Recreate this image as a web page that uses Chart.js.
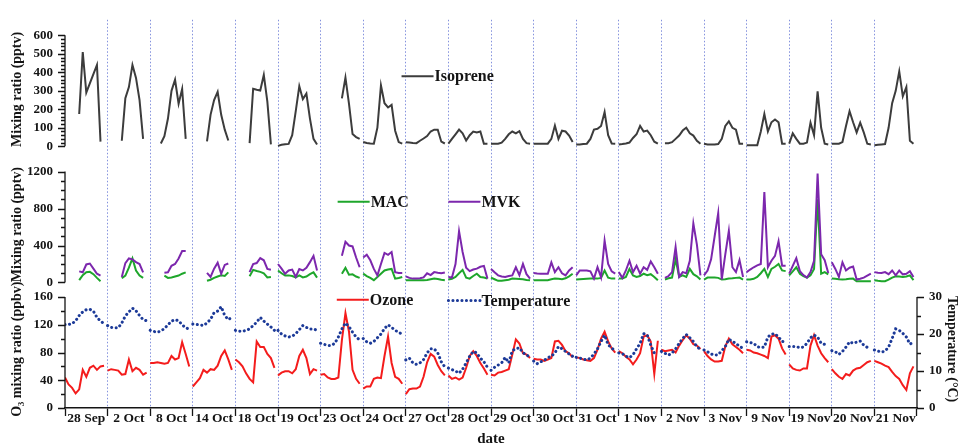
<!DOCTYPE html>
<html>
<head>
<meta charset="utf-8">
<script src="https://cdn.jsdelivr.net/npm/chart.js@4.4.1/dist/chart.umd.min.js"></script>
<style>
  html, body { margin: 0; padding: 0; background: #fff; }
  canvas { display: block; }
</style>
</head>
<body>
<canvas id="chart" width="959" height="447"></canvas>
<script>
// sampling days (each row below = one day, 12 samples, every 2 h)
const days = ['28 Sep', '2 Oct', '8 Oct', '14 Oct', '18 Oct', '19 Oct', '23 Oct', '24 Oct', '27 Oct', '28 Oct',
  '29 Oct', '30 Oct', '31 Oct', '1 Nov', '2 Nov', '3 Nov', '9 Nov', '19 Nov', '20 Nov', '21 Nov'];

// isoprene, pptv
const isoprene = [
  [null, null, null, null, 175, 510, 290, 340, 390, 440, 25, null],
  [null, null, null, null, 30, 260, 320, 440, 370, 250, 40, null],
  [null, null, null, 15, 55, 150, 300, 360, 230, 310, 40, null],
  [null, null, null, null, 26, 170, 250, 295, 170, 90, 31, null],
  [null, null, null, null, 17, 311, 306, 302, 386, 241, 10, null],
  [2, 8, 11, 13, 60, 190, 325, 255, 285, 150, 40, 10],
  [null, null, null, null, null, null, 259, 372, 230, 66, 50, 40],
  [23, 18, 15, 14, 101, 329, 233, 210, 224, 84, 23, 14],
  [22, 20, 18, 17, 30, 42, 55, 80, 90, 90, 25, 15],
  [14, 40, 65, 90, 70, 31, 60, 80, 75, 80, 14, 14],
  [14, 14, 14, 20, 40, 65, 80, 70, 82, 40, 17, 14],
  [14, 14, 14, 14, 14, 40, 112, 40, 84, 80, 58, 23],
  [10, 10, 12, 14, 40, 90, 95, 110, 185, 60, 15, 14],
  [10, 12, 15, 20, 45, 65, 110, 80, 85, 60, 25, 14],
  [null, 17, 17, 22, 40, 58, 85, 100, 70, 58, 30, 14],
  [14, 10, 10, 10, 12, 40, 110, 135, 100, 90, 14, 14],
  [5, 5, 5, 5, 80, 175, 80, 130, 145, 130, 14, 14],
  [14, 70, 40, 14, 14, 20, 128, 60, 297, 100, 14, 10],
  [14, 14, 14, 23, 110, 190, 130, 75, 128, 75, 14, 10],
  [5, 8, 10, 12, 100, 233, 300, 405, 270, 320, 30, 14]
];

// MVK, pptv
const mvk = [
  [null, null, null, null, 120, 110, 195, 205, 150, 95, 75, null],
  [null, null, null, null, 60, 210, 260, 250, 220, 200, 110, null],
  [null, null, null, null, 105, 110, 180, 200, 260, 340, 340, null],
  [null, null, null, null, 105, 60, 150, 215, 95, 190, 205, null],
  [null, null, null, null, 112, 200, 210, 263, 240, 147, 137, null],
  [200, 150, 95, 130, 140, 60, 145, 130, 160, 220, 288, 130],
  [null, null, null, null, null, null, 290, 440, 400, 390, 270, 165],
  [270, 300, 240, 147, 77, 200, 320, 300, 330, 112, 102, 102],
  [67, 50, 42, 42, 45, 55, 100, 80, 112, 105, 100, 109],
  [60, 53, 200, 555, 330, 160, 123, 140, 150, 170, 180, 42],
  [147, 110, 77, 65, 60, 70, 77, 165, 80, 200, 90, 42],
  [102, 98, 95, 95, 95, 218, 112, 165, 100, 77, 130, 165],
  [77, 130, 130, 130, 120, 42, 165, 55, 453, 200, 120, 95],
  [112, 50, 130, 235, 112, 182, 95, 165, 137, 228, 165, 95],
  [null, 49, 70, 112, 383, 60, 112, 100, 235, 640, 410, 77],
  [77, 130, 250, 500, 750, 32, 305, 558, 165, 112, 242, 60],
  [112, 140, 165, 185, 200, 979, 165, 235, 288, 446, 182, 182],
  [95, 180, 263, 123, 80, 53, 112, 235, 1180, 305, 242, 102],
  [218, 147, 60, 218, 130, 160, 172, 32, 40, 53, 75, 95],
  [112, 105, 102, 112, 90, 130, 77, 130, 88, 95, 123, 60]
];

// MAC, pptv
const mac = [
  [null, null, null, null, 25, 80, 110, 115, 90, 50, 14, null],
  [null, null, null, null, 45, 75, 160, 260, 130, 75, 50, null],
  [null, null, null, null, 75, 50, 55, 65, 75, 95, 110, null],
  [null, null, null, null, 18, 30, 50, 65, 77, 70, 110, null],
  [null, null, null, null, 67, 137, 125, 115, 100, 55, 60, null],
  [130, 100, 77, 77, 70, 55, 77, 55, 65, 90, 110, 53],
  [null, null, null, null, null, null, 95, 158, 85, 88, 65, 50],
  [95, 70, 50, 25, 60, 95, 130, 140, 147, 42, 49, 60],
  [25, 25, 25, 25, 25, 25, 28, 35, 42, 38, 30, 25],
  [32, 40, 60, 100, 137, 53, 42, 70, 95, 60, 53, 42],
  [53, 35, 18, 20, 25, 30, 42, 40, 38, 35, 28, 25],
  [25, 25, 25, 25, 25, 35, 42, 40, 35, 45, 67, 95],
  [32, 35, 38, 40, 42, 42, 42, 50, 130, 53, 42, 42],
  [42, 42, 60, 147, 77, 60, 70, 95, 80, 90, 60, 25],
  [null, 32, 45, 53, 253, 60, 77, 60, 147, 90, 67, 32],
  [32, 53, 53, 53, 50, 32, 35, 42, 45, 50, 53, 32],
  [32, 32, 40, 60, 100, 147, 60, 147, 170, 200, 130, 123],
  [77, 120, 165, 95, 70, 53, 77, 147, 900, 95, 112, 88],
  [42, 40, 35, 32, 35, 40, 42, 14, 14, 14, 14, 14],
  [25, 18, 14, 14, 30, 53, 67, 65, 60, 65, 77, 25]
];

// ozone, ppbv
const ozone = [
  [44, 34, 29, 21, 27, 55, 45, 58, 61, 55, 60, 61],
  [54, 56, 55, 54, 48, 49, 70, 53, 58, 55, 48, 51],
  [65, 65, 66, 65, 64, 65, 75, 70, 72, 95, 78, 60],
  [31, 37, 43, 55, 51, 56, 55, 61, 75, 83, 70, 55],
  [70, 66, 60, 50, 42, 37, 96, 88, 88, 78, 72, 58],
  [47, 51, 53, 53, 50, 56, 75, 84, 72, 49, 56, 54],
  [48, 49, 44, 42, 42, 44, 98, 137, 110, 55, 42, 35],
  [28, 31, 31, 42, 44, 43, 75, 103, 65, 45, 42, 35],
  [20, 27, 28, 28, 31, 45, 66, 78, 74, 62, 53, 47],
  [47, 42, 44, 41, 44, 58, 75, 82, 75, 65, 57, 48],
  [48, 47, 51, 52, 54, 56, 77, 99, 93, 79, 77, 72],
  [71, 70, 70, 68, 70, 72, 96, 97, 91, 82, 79, 73],
  [73, 72, 70, 69, 68, 72, 84, 100, 110, 96, 86, 80],
  [82, 79, 74, 70, 63, 70, 79, 103, 105, 96, 49, 97],
  [84, 82, 83, 84, 80, 90, 98, 105, 100, 92, 90, 85],
  [82, 75, 70, 67, 67, 68, 89, 100, 92, 88, 84, 79],
  [84, 83, 80, 79, 77, 75, 72, 103, 105, 100, 86, 77],
  [63, 57, 55, 54, 57, 57, 90, 105, 90, 79, 72, 66],
  [56, 50, 45, 42, 49, 47, 54, 57, 58, 62, 66, 68],
  [68, 66, 64, 61, 59, 52, 46, 42, 33, 26, 50, 60]
];

// temperature, deg C
const temperature = [
  [22.6, 22.6, 22.8, 23.6, 25, 26, 26.6, 26.7, 26.2, 24.5, 23.5, 22.8],
  [22.3, 21.8, 21.7, 21.7, 23, 24.9, 26, 27, 26.3, 25, 23.9, 23.6],
  [21, 20.7, 20.5, 20.8, 21.5, 22.5, 23.5, 23.9, 23.6, 22.5, 21.7, 21.3],
  [22.7, 22.6, 22.5, 22.3, 23, 24, 25.8, 26.2, 27.4, 25, 23.9, 24.5],
  [21, 20.8, 20.7, 21, 21.4, 22.3, 23.2, 24.5, 23.5, 22.7, 21.9, 21],
  [21, 20, 19.5, 19.2, 19.4, 20.1, 21.2, 22.3, 21.8, 21.4, 21.4, 21],
  [17.5, 17.2, 16.9, 16.9, 17.5, 19.2, 21.4, 23, 22, 20.5, 19.2, 18.4],
  [18.8, 17.9, 17.5, 18, 19, 20, 21.5, 22.5, 21.8, 21, 20.5, 19.9],
  [13, 13.5, 12.2, 11.8, 12.2, 13.1, 14.9, 16, 16, 14.9, 12.5, 11.1],
  [10.8, 10.4, 10, 9.4, 10.5, 12.2, 14, 15.3, 14.9, 13.5, 12.5, 11],
  [10.2, 11, 11.6, 12.2, 13.7, 12.2, 15.5, 16, 16.3, 14.9, 14.5, 13.5],
  [12.7, 12, 12.5, 12.9, 13.6, 14, 14.9, 16.6, 16, 15.3, 14.6, 14],
  [13.7, 13.5, 13.2, 13, 13.5, 14.6, 16, 18, 19.7, 17.1, 16.2, 15.4],
  [14.9, 14.7, 14, 13.6, 14.4, 16, 17.5, 20.1, 19.8, 17, 14.9, 15.3],
  [15.3, 14.8, 14.3, 14.9, 16, 17.5, 18.8, 19.9, 19, 18, 16.6, 15.8],
  [15.7, 15.2, 14.6, 14.3, 14.4, 15.5, 16.6, 18.6, 18, 17.5, 16.6, 16.2],
  [17.9, 17.7, 17.5, 16.6, 16.3, 16.5, 19.2, 20, 20.1, 19.2, 18, 17.9],
  [16.6, 16.6, 16.6, 16.3, 16.5, 17.5, 19, 19.7, 19.2, 17.5, 17.2, 16.8],
  [15.5, 15.2, 14.5, 15.3, 16.5, 17.9, 17.5, 17.8, 18.1, 17, 16.4, 16.2],
  [15.7, 15.4, 15.1, 15.4, 16.5, 18.8, 21.4, 21, 20.2, 19.2, 17.3, 17.8]
];

// labelled ticks of each axis
const isoTicks = [0, 100, 200, 300, 400, 500, 600];
const carbTicks = [0, 400, 800, 1200];
const o3Ticks = [0, 40, 80, 120, 160];
const tempTicks = [0, 10, 20, 30];

const SERIF = '"Liberation Serif", "DejaVu Serif", serif';
const INK = '#141414';
const C = {
  iso: '#3c3c3c', mac: '#1ea62b', mvk: '#7c27ad', ozone: '#f41c1c', temp: '#1c3a98', grid: '#8391dd'
};
const DOTS = [0.1, 4.4];

// one row per day -> {x: day + fraction, y}, with a break between days
function toPoints(rows) {
  const pts = [];
  rows.forEach((row, d) => {
    row.forEach((v, k) => pts.push({ x: d + k / row.length, y: v }));
    pts.push({ x: d + 0.99, y: null });
  });
  return pts;
}

function leftAxis(title, ticks, min, max, stackWeight, weight) {
  return {
    type: 'linear', position: 'left', stack: 'left', stackWeight, weight, min, max,
    afterBuildTicks: (axis) => { axis.ticks = ticks.map(v => ({ value: v })); },
    afterFit: (axis) => { axis.width = 61; },
    grid: { display: false, drawTicks: false },
    border: { display: false },
    ticks: {
      padding: 12, autoSkip: false, color: INK, font: { family: SERIF, size: 13, weight: 'bold' },
      callback: (v) => String(v)
    },
    title: {
      display: true, text: title, color: INK, padding: { top: 5, bottom: 0 },
      font: { family: SERIF, size: 14, weight: 'bold' }
    }
  };
}

function spacerAxis(stackWeight, weight) {
  return {
    type: 'linear', position: 'right', stack: 'right', stackWeight, weight,
    afterFit: (axis) => { axis.width = 0; },
    grid: { display: false, drawTicks: false }, border: { display: false },
    ticks: { display: false }, title: { display: false }
  };
}

// axis lines with major / minor tick marks
const axisMarks = [
  { id: 'yIso', side: 'left', max: 600, major: 100, minor: 20 },
  { id: 'yCarb', side: 'left', max: 1200, major: 400, minor: 100 },
  { id: 'yO3', side: 'left', max: 160, major: 40, minor: 20 },
  { id: 'yT', side: 'right', max: 30, major: 10, minor: 5 }
];

// in-plot legend entries, placed in data units of their panel
const legendItems = [
  { text: 'Isoprene', color: C.iso, axis: 'yIso', x: 7.9, y: 379 },
  { text: 'MAC', color: C.mac, axis: 'yCarb', x: 6.4, y: 874 },
  { text: 'MVK', color: C.mvk, axis: 'yCarb', x: 9.0, y: 874 },
  { text: 'Ozone', color: C.ozone, axis: 'yO3', x: 6.38, y: 156 },
  { text: 'Temperature', color: C.temp, axis: 'yO3', x: 9.0, y: 155, dash: DOTS, width: 3, cap: 'round' }
];

const decor = {
  id: 'decor',
  afterDatasetsDraw(chart) {
    const { ctx, scales } = chart;
    ctx.save();
    ctx.strokeStyle = INK;
    ctx.lineWidth = 1.3;
    axisMarks.forEach(a => {
      const s = scales[a.id];
      const x = a.side === 'left' ? s.right : s.left;
      const dir = a.side === 'left' ? -1 : 1;
      ctx.beginPath();
      ctx.moveTo(x, s.getPixelForValue(a.max));
      ctx.lineTo(x, s.getPixelForValue(0));
      for (let v = 0; v <= a.max + 1e-6; v += a.minor) {
        const y = Math.round(s.getPixelForValue(v)) + 0.5;
        const isMajor = Math.abs(v / a.major - Math.round(v / a.major)) < 1e-6;
        ctx.moveTo(x, y);
        ctx.lineTo(x + dir * (isMajor ? 7 : 4), y);
      }
      ctx.stroke();
    });

    const xs = scales.x;
    ctx.font = 'bold 16px ' + SERIF;
    ctx.textBaseline = 'middle';
    ctx.textAlign = 'left';
    legendItems.forEach(item => {
      const x0 = xs.getPixelForValue(item.x);
      const y = scales[item.axis].getPixelForValue(item.y);
      ctx.beginPath();
      ctx.strokeStyle = item.color;
      ctx.lineWidth = item.width || 2;
      ctx.lineCap = item.cap || 'butt';
      ctx.setLineDash(item.dash || []);
      ctx.moveTo(x0, y);
      ctx.lineTo(x0 + 32, y);
      ctx.stroke();
      ctx.setLineDash([]);
      ctx.fillStyle = INK;
      ctx.fillText(item.text, x0 + 33, y + 1);
    });
    ctx.restore();
  }
};

const line = (label, rows, color, axis, extra) => Object.assign({
  label, data: toPoints(rows), yAxisID: axis, borderColor: color, backgroundColor: color,
  borderWidth: 2, pointRadius: 0, tension: 0, spanGaps: false
}, extra || {});

new Chart(document.getElementById('chart'), {
  type: 'line',
  data: {
    datasets: [
      line('Isoprene', isoprene, C.iso, 'yIso'),
      line('MVK', mvk, C.mvk, 'yCarb'),
      line('MAC', mac, C.mac, 'yCarb'),
      line('Temperature', temperature, C.temp, 'yT', { borderWidth: 3, borderDash: DOTS, borderCapStyle: 'round' }),
      line('Ozone', ozone, C.ozone, 'yO3')
    ]
  },
  options: {
    responsive: false,
    animation: false,
    events: [],
    layout: { padding: { left: 4, right: 0, top: 9, bottom: 0 } },
    plugins: { legend: { display: false }, tooltip: { enabled: false } },
    scales: {
      x: {
        type: 'linear', min: 0, max: days.length,
        afterBuildTicks: (axis) => { axis.ticks = days.map((d, i) => ({ value: i + 0.5 })); },
        afterFit: (axis) => { axis.height = 39; },
        grid: {
          offset: true, drawTicks: true, tickLength: 8, tickColor: INK, tickWidth: 1.3, lineWidth: 1,
          color: (c) => (c.index > 0 && c.index < days.length) ? C.grid : 'rgba(0,0,0,0)'
        },
        border: { display: true, color: INK, width: 1.5, dash: [1.5, 2] },
        ticks: {
          autoSkip: false, maxRotation: 0, minRotation: 0, padding: -6, color: INK,
          font: { family: SERIF, size: 13.5, weight: 'bold' },
          callback: (v, i) => days[i]
        },
        title: {
          display: true, text: 'date', color: INK, padding: 0,
          font: { family: SERIF, size: 15, weight: 'bold', lineHeight: 1 }
        }
      },
      yIso: leftAxis('Mixing ratio (pptv)', isoTicks, -68.4, 684.2, 143, 3),
      yCarb: leftAxis('Mixing ratio (pptv)', carbTicks, -84.2, 1336.8, 135, 2),
      yO3: leftAxis('O\u2083 mixing ratio (ppbv)', o3Ticks, 0, 169.8, 121, 1),
      yR1: spacerAxis(143, 1),
      yR2: spacerAxis(135, 2),
      yT: {
        type: 'linear', position: 'right', stack: 'right', stackWeight: 121, weight: 3, min: 0, max: 31.84,
        afterBuildTicks: (axis) => { axis.ticks = tempTicks.map(v => ({ value: v })); },
        afterFit: (axis) => { axis.width = 42; },
        grid: { display: false, drawTicks: false },
        border: { display: false },
        ticks: { padding: 12, autoSkip: false, color: INK, font: { family: SERIF, size: 13, weight: 'bold' } },
        title: {
          display: true, text: 'Temperature (\u00b0C)', color: INK, padding: 0,
          font: { family: SERIF, size: 14, weight: 'bold', lineHeight: 1 }
        }
      }
    }
  },
  plugins: [decor]
});
</script>
</body>
</html>
